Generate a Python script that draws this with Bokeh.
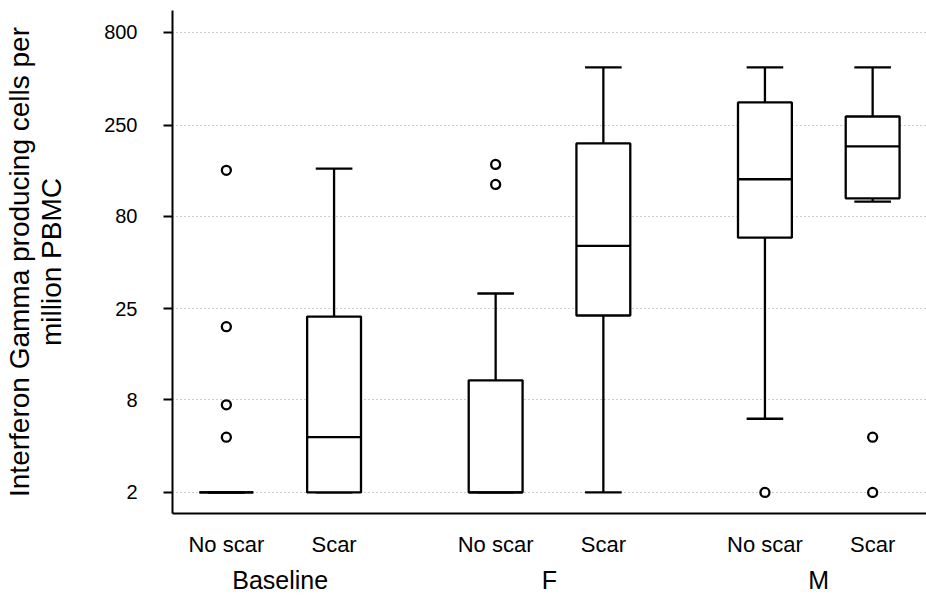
from bokeh.plotting import figure
from bokeh.models import FactorRange, Range1d, FixedTicker, ColumnDataSource
from bokeh.transform import dodge
from bokeh.embed import file_html
from bokeh.resources import INLINE

# ---- data ----
groups = ["Baseline", "Baseline", "F", "F", "M", "M"]
subgroups = ["No scar", "Scar", "No scar", "Scar", "No scar", "Scar"]
whisker_low = [2.5, 2.5, 2.5, 2.5, 6.3, 96.0]
q1 = [2.5, 2.5, 2.5, 23.0, 61.0, 100.0]
median = [2.5, 5.0, 2.5, 55.0, 127.0, 192.0]
q3 = [2.5, 22.7, 10.2, 199.0, 333.0, 279.0]
whisker_high = [2.5, 145.0, 30.3, 516.0, 516.0, 516.0]

outlier_groups = ["Baseline", "Baseline", "Baseline", "Baseline", "F", "F", "M", "M", "M"]
outlier_subgroups = ["No scar", "No scar", "No scar", "No scar", "No scar", "No scar",
                     "No scar", "Scar", "Scar"]
outlier_values = [142.0, 20.0, 7.5, 5.0, 153.0, 119.0, 2.5, 5.0, 2.5]

tick_values = [2.5, 8, 25, 80, 250, 800]
tick_labels = ["2", "8", "25", "80", "250", "800"]
y_title = "Interferon Gamma producing cells per\nmillion PBMC"

# ---- figure ----
factors = list(zip(groups, subgroups))
FONT = "Liberation Sans"

p = figure(
    x_range=FactorRange(*factors, group_padding=0.5, range_padding=0.0),
    y_range=Range1d(1.92, 1054),
    y_axis_type="log",
    width=926, height=604,
    output_backend="svg", toolbar_location=None,
    min_border_left=172, min_border_right=0, min_border_top=10, min_border_bottom=91,
)
p.outline_line_color = None
p.background_fill_color = "white"
p.border_fill_color = "white"

src = ColumnDataSource(dict(x=factors, lo=whisker_low, q1=q1, med=median, q3=q3, hi=whisker_high))
osrc = ColumnDataSource(dict(x=list(zip(outlier_groups, outlier_subgroups)), y=outlier_values))

lw = 2.3
# whiskers
p.segment(x0="x", y0="q3", x1="x", y1="hi", line_color="black", line_width=lw, source=src)
p.segment(x0="x", y0="q1", x1="x", y1="lo", line_color="black", line_width=lw, source=src)
# caps
p.segment(x0=dodge("x", -0.17, range=p.x_range), y0="hi", x1=dodge("x", 0.17, range=p.x_range), y1="hi",
          line_color="black", line_width=lw, source=src)
p.segment(x0=dodge("x", -0.17, range=p.x_range), y0="lo", x1=dodge("x", 0.17, range=p.x_range), y1="lo",
          line_color="black", line_width=lw, source=src)
# boxes
p.vbar(x="x", top="q3", bottom="q1", width=0.5, fill_color="white", line_color="black",
       line_width=lw, source=src)
# medians
p.segment(x0=dodge("x", -0.25, range=p.x_range), y0="med", x1=dodge("x", 0.25, range=p.x_range), y1="med",
          line_color="black", line_width=lw, source=src)
# outliers
p.scatter(x="x", y="y", marker="circle", size=9, fill_color="white", line_color="black",
          line_width=2.3, source=osrc)

# ---- y axis ----
yax = p.yaxis[0]
yax.ticker = FixedTicker(ticks=tick_values)
yax.major_label_overrides = {v: s for v, s in zip(tick_values, tick_labels)}
yax.minor_tick_line_color = None
yax.major_tick_in = 0
yax.major_tick_out = 9
yax.major_tick_line_width = 2
yax.axis_line_width = 2
yax.axis_line_color = "black"
yax.major_tick_line_color = "black"
yax.major_label_text_font = FONT
yax.major_label_text_font_size = "20px"
yax.major_label_text_color = "black"
yax.major_label_standoff = 26
yax.axis_label = y_title
yax.axis_label_text_font = FONT
yax.axis_label_text_font_size = "28px"
yax.axis_label_text_font_style = "normal"
yax.axis_label_text_color = "black"
yax.axis_label_text_line_height = 1.05
yax.axis_label_standoff = 34

# ---- x axis ----
xax = p.xaxis[0]
xax.axis_line_width = 2
xax.axis_line_color = "black"
xax.major_tick_line_color = None
xax.major_tick_out = 12
xax.major_tick_in = 0
xax.minor_tick_line_color = None
xax.major_label_text_font = FONT
xax.major_label_text_font_size = "22px"
xax.major_label_text_color = "black"
xax.major_label_standoff = 6
xax.group_text_font = FONT
xax.group_text_font_size = "25px"
xax.group_text_font_style = "normal"
xax.group_text_color = "black"
xax.separator_line_color = None

# ---- grid ----
p.xgrid.visible = False
p.ygrid.ticker = FixedTicker(ticks=tick_values)
p.ygrid.grid_line_color = "#9a9a9a"
p.ygrid.grid_line_dash = "1 3"
p.ygrid.grid_line_width = 1

open("out.html", "w").write(file_html(p, INLINE))
